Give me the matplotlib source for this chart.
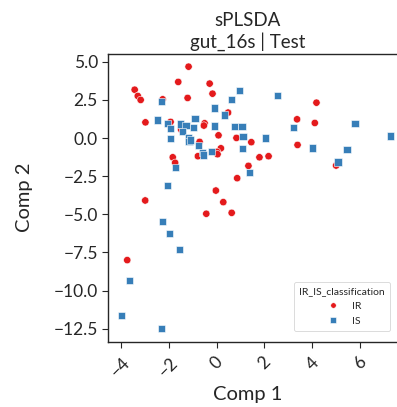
import matplotlib
matplotlib.use("Agg")
import matplotlib.pyplot as plt
import seaborn as sns
import pandas as pd

# sPLSDA component scores on the test set, split by classification
ir_comp1 = [-1.17, -1.60, -0.29, -0.17, -1.21, -3.42, -3.29, -3.17, -2.25, -2.97,
            -1.92, -0.50, -0.53, 0.48, -1.48, 0.08, 0.83, -0.71, 0.18, 0.02,
            0.04, -1.83, -0.78, -1.73, 0.86, 4.17, 3.36, 4.10, 1.45, 3.38,
            1.79, 2.17, 1.33, 4.99, -0.03, -2.98, 0.28, -0.43, 0.63, -3.73]
ir_comp2 = [4.68, 3.68, 3.57, 2.91, 2.63, 3.17, 2.76, 2.50, 2.54, 1.03,
            1.06, 0.97, 0.82, 1.67, 0.56, 0.18, 0.01, -0.25, -0.67, -0.90,
            -1.06, -1.26, -1.19, -1.62, -2.63, 2.32, 1.23, 0.99, -0.27, -0.45,
            -1.26, -1.19, -1.82, -1.80, -3.44, -4.09, -4.20, -4.96, -4.90, -8.00]

is_comp1 = [-2.30, 0.96, 0.63, -0.08, 0.32, -2.47, -2.04, -1.93, -1.50, -1.28,
            -0.90, -0.96, -0.10, 0.74, -1.42, -1.92, -1.17, -1.15, -1.08, -0.76,
            -0.58, -0.55, -0.21, -1.71, 2.54, 5.78, 7.25, 1.06, 1.10, 3.20,
            2.03, 1.08, 4.00, 5.45, 5.07, 1.38, -2.04, -2.26, -1.97, -1.54,
            -3.63, -3.96, -2.30]
is_comp2 = [2.41, 3.11, 2.54, 1.98, 1.52, 1.19, 0.95, 0.64, 0.93, 0.82,
            1.30, 0.71, 0.80, 0.77, 0.41, -0.05, 0.01, -0.21, -0.12, -0.49,
            -0.93, -1.10, -0.88, -1.93, 2.80, 0.95, 0.14, 0.75, 0.10, 0.69,
            0.01, -0.69, -0.64, -0.77, -1.56, -2.26, -3.13, -5.48, -6.27, -7.32,
            -9.35, -11.64, -12.49]

df = pd.DataFrame({
    "Comp 1": ir_comp1 + is_comp1,
    "Comp 2": ir_comp2 + is_comp2,
    "IR_IS_classification": ["IR"] * len(ir_comp1) + ["IS"] * len(is_comp1),
})

sns.set_style("ticks")
plt.rcParams["font.family"] = ["Lato", "DejaVu Sans"]

fig = plt.figure(figsize=(3.97, 4.07), dpi=100)
ax = fig.add_axes([0.2728, 0.1604, 0.744, 0.7080])

sns.scatterplot(data=df, x="Comp 1", y="Comp 2", hue="IR_IS_classification",
                style="IR_IS_classification", markers={"IR": "o", "IS": "s"},
                palette={"IR": "#e41a1c", "IS": "#377eb8"}, s=28,
                linewidth=0.4, edgecolor="white", ax=ax)

# keep the full box around the axes
for side in ["left", "bottom", "top", "right"]:
    ax.spines[side].set_visible(True)
    ax.spines[side].set_color("#262626")
    ax.spines[side].set_linewidth(1.0)
    ax.spines[side].set_zorder(5)

ax.set_title("sPLSDA\ngut_16s | Test", fontsize=13.5, x=0.473, pad=4)
ax.set_xlabel("Comp 1", fontsize=14.5)
ax.set_ylabel("Comp 2", fontsize=14.5)
ax.xaxis.set_label_coords(0.473, -0.155)
ax.yaxis.set_label_coords(-0.255, 0.5)
ax.tick_params(axis="both", labelsize=12.5, length=4)
ax.tick_params(axis="x", pad=5)
ax.set_xticks([-4, -2, 0, 2, 4, 6])
ax.set_yticks([5.0, 2.5, 0.0, -2.5, -5.0, -7.5, -10.0, -12.5])
plt.setp(ax.get_xticklabels(), rotation=45)

leg = ax.legend(title="IR_IS_classification", loc="lower left",
                fontsize=7.5, title_fontsize=7.5, markerscale=0.75,
                bbox_to_anchor=(0.612, 0.02), borderpad=0.5)
leg.get_frame().set_linewidth(0.6)

fig.savefig("out.png", dpi=100)
